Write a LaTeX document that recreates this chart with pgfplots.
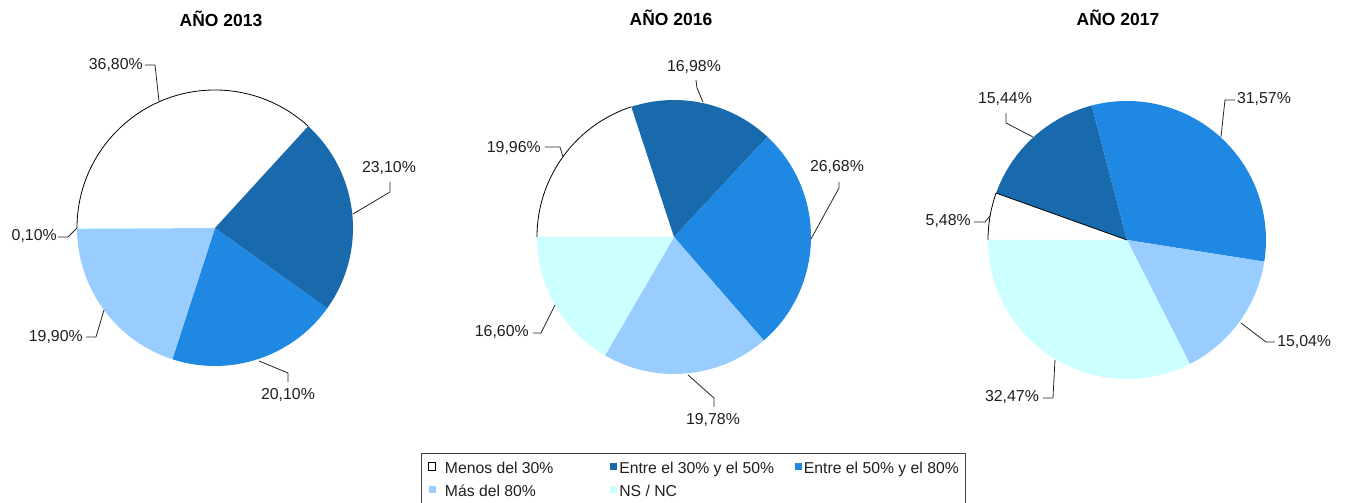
\documentclass[border=0pt]{standalone}
\usepackage{fontspec}
\setmainfont{Liberation Sans}
\usepackage{pgfplots}
\pgfplotsset{compat=1.18}
\definecolor{cDark}{RGB}{24,106,172}
\definecolor{cMid}{RGB}{31,136,226}
\definecolor{cLight}{RGB}{153,204,255}
\definecolor{cCyan}{RGB}{204,255,255}
\tikzset{
  lbl/.style={font=\fontsize{11.9pt}{14pt}\selectfont, inner sep=0pt, text=black!88},
  ttl/.style={font=\bfseries\fontsize{13.1pt}{15pt}\selectfont, inner sep=0pt, text=black},
}
\pgfplotsset{
  ldr/.style={black!85, line width=0.6pt, forget plot},
  rim/.style={draw=black, line width=0.6pt, forget plot},
}
\begin{document}
\begin{tikzpicture}
\useasboundingbox (0,0) rectangle (1010.25pt,377.25pt);
\begin{axis}[
  at={(0pt,0pt)}, anchor=south west,
  width=1010.25pt, height=377.25pt, scale only axis,
  xmin=0, xmax=1347, ymin=0, ymax=503,
  hide axis, clip=false,
  legend columns=3, legend cell align=left,
  legend image code/.code={\fill[#1, draw=none] (0pt,-0.5pt) rectangle (5.4pt,4.9pt);},
  legend style={
    at={(axis description cs:0.3125,0.0994)}, anchor=north west,
    draw=black!75, line width=0.9pt, fill=white,
    inner xsep=5pt, inner ysep=6.2pt, row sep=6.05pt,
    font=\fontsize{11.8pt}{13pt}\selectfont,
    nodes={inner sep=0pt, text height=8.6pt, text depth=2.6pt, text=black!88},
    /tikz/column 1/.style={column sep=6.6pt},
    /tikz/column 2/.style={column sep=42.5pt},
    /tikz/column 3/.style={column sep=1.5pt},
    /tikz/column 4/.style={column sep=15.5pt},
    /tikz/column 5/.style={column sep=1.5pt},
  },
]
% ---------- AÑO 2013: 36.80, 23.10, 20.10, 19.90, 0.10 ----------
\addplot[fill=white, draw=none, legend image code/.code={\draw[black, fill=white, line width=0.6pt] (0pt,-0.5pt) rectangle (5.4pt,4.9pt);}] coordinates {(215,275)} -- ++(180:103.5pt) arc[start angle=180, end angle=47.52, radius=103.5pt] -- cycle;
\addplot[fill=cDark, draw=none] coordinates {(215,275)} -- ++(47.52:103.5pt) arc[start angle=47.52, end angle=-35.64, radius=103.5pt] -- cycle;
\addplot[fill=cMid, draw=none] coordinates {(215,275)} -- ++(-35.64:103.5pt) arc[start angle=-35.64, end angle=-108.0, radius=103.5pt] -- cycle;
\addplot[fill=cLight, draw=none] coordinates {(215,275)} -- ++(-108.0:103.5pt) arc[start angle=-108.0, end angle=-179.64, radius=103.5pt] -- cycle;
\addplot[fill=cCyan, draw=none] coordinates {(215,275)} -- ++(-179.64:103.5pt) arc[start angle=-179.64, end angle=-180, radius=103.5pt] -- cycle;
\legend{Menos del 30\%, Entre el 30\% y el 50\%, Entre el 50\% y el 80\%, Más del 80\%, NS / NC}
\addplot[rim] coordinates {(215,275)} ++(180:103.5pt) arc[start angle=180, end angle=47.52, radius=103.5pt];
% ---------- AÑO 2016: 19.96, 16.98, 26.68, 19.78, 16.60 ----------
\addplot[fill=white, draw=none, forget plot] coordinates {(674,266)} -- ++(180:102.75pt) arc[start angle=180, end angle=108.144, radius=102.75pt] -- cycle;
\addplot[fill=cDark, draw=none, forget plot] coordinates {(674,266)} -- ++(108.144:102.75pt) arc[start angle=108.144, end angle=47.016, radius=102.75pt] -- cycle;
\addplot[fill=cMid, draw=none, forget plot] coordinates {(674,266)} -- ++(47.016:102.75pt) arc[start angle=47.016, end angle=-49.032, radius=102.75pt] -- cycle;
\addplot[fill=cLight, draw=none, forget plot] coordinates {(674,266)} -- ++(-49.032:102.75pt) arc[start angle=-49.032, end angle=-120.24, radius=102.75pt] -- cycle;
\addplot[fill=cCyan, draw=none, forget plot] coordinates {(674,266)} -- ++(-120.24:102.75pt) arc[start angle=-120.24, end angle=-180, radius=102.75pt] -- cycle;
\addplot[rim] coordinates {(674,266)} ++(180:102.75pt) arc[start angle=180, end angle=108.144, radius=102.75pt];
% ---------- AÑO 2017: 5.48, 15.44, 31.57, 15.04, 32.47 ----------
\addplot[fill=white, draw=none, forget plot] coordinates {(1127,263)} -- ++(180:104.25pt) arc[start angle=180, end angle=160.272, radius=104.25pt] -- cycle;
\addplot[fill=cDark, draw=none, forget plot] coordinates {(1127,263)} -- ++(160.272:104.25pt) arc[start angle=160.272, end angle=104.688, radius=104.25pt] -- cycle;
\addplot[fill=cMid, draw=none, forget plot] coordinates {(1127,263)} -- ++(104.688:104.25pt) arc[start angle=104.688, end angle=-8.964, radius=104.25pt] -- cycle;
\addplot[fill=cLight, draw=none, forget plot] coordinates {(1127,263)} -- ++(-8.964:104.25pt) arc[start angle=-8.964, end angle=-63.108, radius=104.25pt] -- cycle;
\addplot[fill=cCyan, draw=none, forget plot] coordinates {(1127,263)} -- ++(-63.108:104.25pt) arc[start angle=-63.108, end angle=-180, radius=104.25pt] -- cycle;
\addplot[rim] coordinates {(1127,263)} ++(180:104.25pt) arc[start angle=180, end angle=160.272, radius=104.25pt] -- (axis cs:1127,263);
% ---------- leader lines ----------
\addplot[ldr] coordinates {(145,438) (155,438) (159,402)};
\addplot[ldr] coordinates {(390,321) (390,311) (353,289)};
\addplot[ldr] coordinates {(58,266) (68,266) (77,275)};
\addplot[ldr] coordinates {(86,166) (96,166) (104,193)};
\addplot[ldr] coordinates {(288,121) (288,130) (259,142)};
\addplot[ldr] coordinates {(696,423) (697,415) (703,401)};
\addplot[ldr] coordinates {(545,356) (560,356) (563,346)};
\addplot[ldr] coordinates {(839,321) (839,315) (811,264)};
\addplot[ldr] coordinates {(533,170) (541,170) (555,198)};
\addplot[ldr] coordinates {(714,96) (714,105) (688,128)};
\addplot[ldr] coordinates {(1006,390) (1006,380) (1033,366)};
\addplot[ldr] coordinates {(1235,403) (1225,403) (1221,366)};
\addplot[ldr] coordinates {(974,281) (985,281) (990,287)};
\addplot[ldr] coordinates {(1275,161) (1266,161) (1241,180)};
\addplot[ldr] coordinates {(1043,105) (1053,105) (1055,143)};
% ---------- labels ----------
\node[lbl, anchor=east] at (axis cs:143,438) {36,80\%};
\node[lbl] at (axis cs:389,335) {23,10\%};
\node[lbl, anchor=east] at (axis cs:57,267) {0,10\%};
\node[lbl, anchor=east] at (axis cs:83,166) {19,90\%};
\node[lbl] at (axis cs:288,108) {20,10\%};
\node[lbl] at (axis cs:694,436) {16,98\%};
\node[lbl, anchor=east] at (axis cs:541,355) {19,96\%};
\node[lbl] at (axis cs:837,336) {26,68\%};
\node[lbl, anchor=east] at (axis cs:529,171) {16,60\%};
\node[lbl] at (axis cs:713,83) {19,78\%};
\node[lbl] at (axis cs:1005,404) {15,44\%};
\node[lbl] at (axis cs:1264,404) {31,57\%};
\node[lbl, anchor=east] at (axis cs:971,282) {5,48\%};
\node[lbl, anchor=west] at (axis cs:1277,161) {15,04\%};
\node[lbl] at (axis cs:1012,106) {32,47\%};
% ---------- titles ----------
\node[ttl] at (axis cs:221,484) {AÑO 2013};
\node[ttl] at (axis cs:671,485) {AÑO 2016};
\node[ttl] at (axis cs:1118,485) {AÑO 2017};
\end{axis}
\end{tikzpicture}
\end{document}
